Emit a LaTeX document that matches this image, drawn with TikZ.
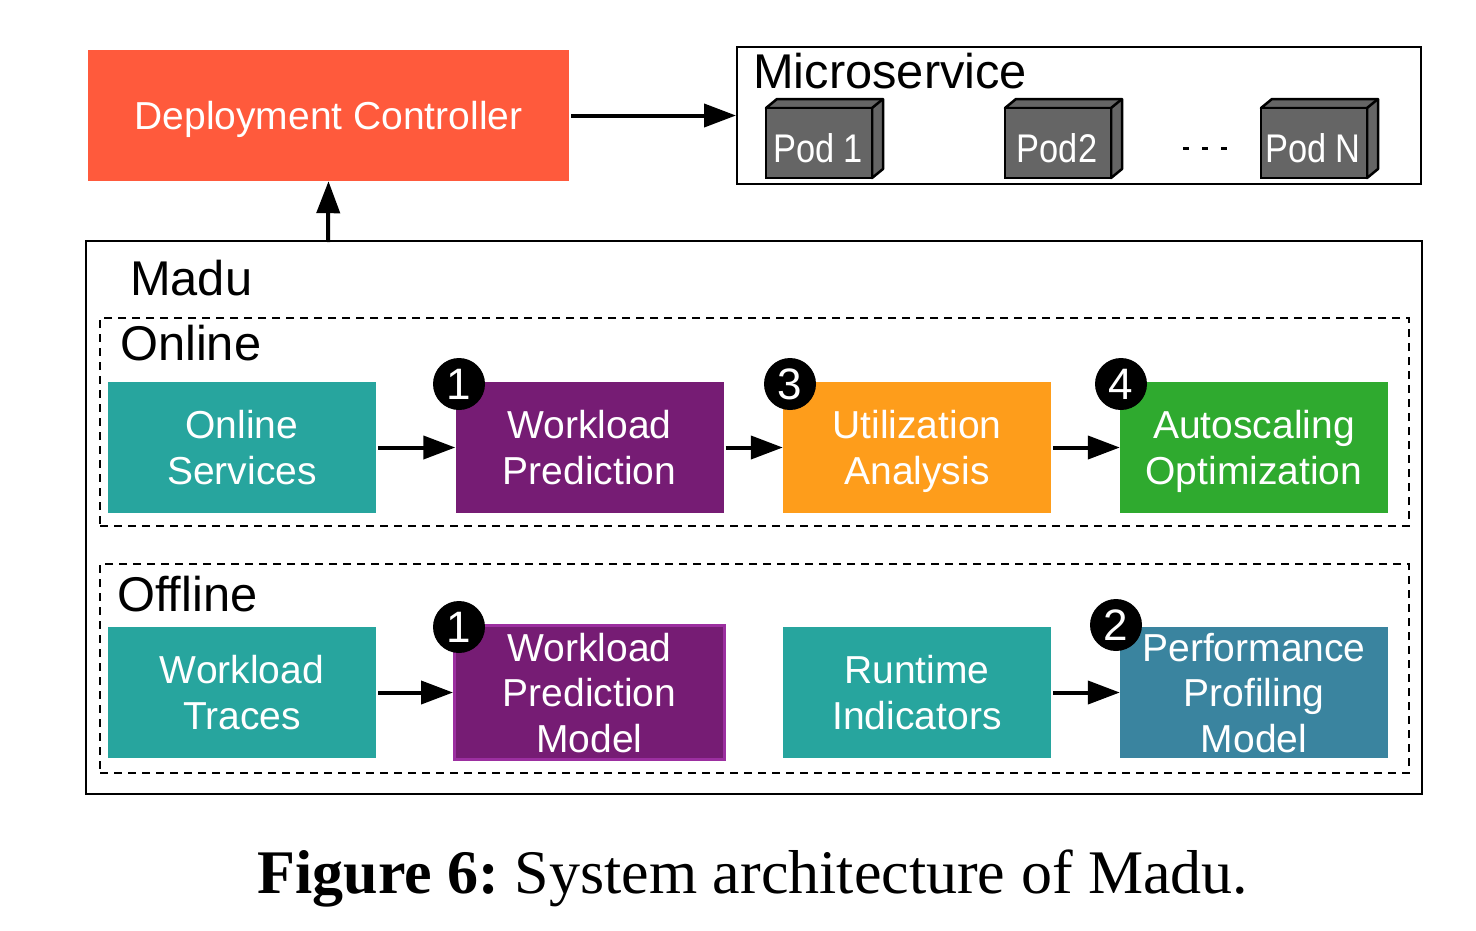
\documentclass[tikz,border=0pt]{standalone}
\usepackage{fontspec}
\usepackage{graphicx}
\newfontfamily\arialf{Liberation Sans}
\newfontfamily\capf{Liberation Serif}
\usetikzlibrary{arrows.meta,calc}
\definecolor{dcred}{HTML}{FF5A3C}
\definecolor{tealc}{HTML}{27A59E}
\definecolor{purplec}{HTML}{761C74}
\definecolor{purpleb}{HTML}{9C2FA0}
\definecolor{orangec}{HTML}{FE9D1B}
\definecolor{greenc}{HTML}{2FAA2F}
\definecolor{steelc}{HTML}{3A849F}
\definecolor{podgray}{HTML}{656565}
\tikzset{
  box/.style={rectangle, inner sep=0pt, minimum width=268pt, minimum height=131pt,
    text=white, align=center, text depth=0pt, font=\arialf\fontsize{39}{46}\selectfont},
  lbl/.style={anchor=base west, inner sep=0pt, font=\arialf\fontsize{48.8}{52}\selectfont},
  flow/.style={line width=4pt, -{Triangle[length=32pt,width=23pt]}},
  pod/.style={rectangle, draw=black, line width=2.5pt, fill=podgray, inner sep=0pt,
    minimum width=106pt, minimum height=70pt},
  podtext/.style={text=white, inner sep=0pt, anchor=base, font=\arialf\fontsize{40}{44}\selectfont},
  podface/.style={draw=black, line width=2.5pt, fill=podgray, line join=round},
  numc/.style={circle, fill=black, text=white, inner sep=0pt, minimum size=52pt,
    font=\arialf\fontsize{44}{46}\selectfont},
  dashbox/.style={draw=black, line width=2pt, dash pattern=on 8pt off 6pt},
}
\begin{document}
\begin{tikzpicture}[x=1pt,y=-1pt]
\useasboundingbox (0,0) rectangle (1476,930);
% Deployment controller
\node[box, fill=dcred, minimum width=481pt, minimum height=131pt] (dc) at (328.5,115.5) {Deployment Controller};
% Microservice
\node[draw=black, line width=2pt, minimum width=684pt, minimum height=137pt, inner sep=0pt] (ms) at (1079,115.5) {};
\node[lbl] (mslbl) at (753,88) {Microservice};
\foreach \n/\x/\t in {p1/819/Pod 1, p2/1058/Pod2, pn/1314/Pod N}{
  \draw[podface] ($(\x,143)+(-53,-35)$) -- ++(11,-9) -- ++(106,0) -- ++(0,70) -- ++(-11,9) -- ++(0,-70) -- cycle;
  \draw[podface] ($(\x,143)+(53,-35)$) -- ++(11,-9);
  \node[pod] (\n) at (\x,143) {};
  \node[podtext] at (\x-1,162) {\scalebox{0.86}[1]{\t}};
}
\draw[line width=3pt, dash pattern=on 6pt off 13pt] (1183,148) -- (1232,148);
% arrows top
\coordinate (msin) at (736,115.5);
\draw[flow] (dc.east) ++(2,0) -- (msin);
% Madu box
\node[draw=black, line width=2pt, minimum width=1336pt, minimum height=553pt, inner sep=0pt] (madu) at (754,517.5) {};
\node[lbl] (madulbl) at (130,295) {Madu};
\draw[flow] (328,242) -- (dc.south);
% Online
\node[dashbox, minimum width=1309pt, minimum height=208pt, inner sep=0pt] (online) at (754.5,422) {};
\node[lbl] (onlbl) at (120,360) {Online};
\node[box, fill=tealc] (os) at (242,447.5) {Online\\Services};
\node[box, fill=purplec] (wp) at (589.5,447.5) {Workload\\Prediction};
\node[box, fill=orangec] (ua) at (917,447.5) {Utilization\\Analysis};
\node[box, fill=greenc] (ao) at (1254,447.5) {Autoscaling\\Optimization};
\draw[flow] (os.east) ++(2,0) -- (wp.west);
\draw[flow] (wp.east) ++(2,0) -- (ua.west);
\draw[flow] (ua.east) ++(2,0) -- (ao.west);
\node[numc] (c1) at (459,384) {1};
\node[numc] (c3) at (790,384) {3};
\node[numc] (c4) at (1121,384) {4};
% Offline
\node[dashbox, minimum width=1309pt, minimum height=209pt, inner sep=0pt] (offline) at (754.5,668.5) {};
\node[lbl] (offlbl) at (117,611) {Offline};
\node[box, fill=tealc] (wt) at (242,692.5) {Workload\\Traces};
\node[box, fill=purplec, draw=purpleb, line width=3pt, minimum width=270pt, minimum height=134pt, font=\arialf\fontsize{39}{45.5}\selectfont] (wpm) at (589.5,692.5) {Workload\\Prediction\\Model};
\node[box, fill=tealc] (ri) at (917,692.5) {Runtime\\Indicators};
\node[box, fill=steelc, font=\arialf\fontsize{39}{45.5}\selectfont] (ppm) at (1254,692.5) {Performance\\Profiling\\Model};
\draw[flow] (wt.east) ++(2,0) -- (wpm.west);
\draw[flow] (ri.east) ++(2,0) -- (ppm.west);
\node[numc] (c1b) at (459,627) {1};
\node[numc] (c2) at (1116,625) {2};
% caption
\node[inner sep=0pt, anchor=base, font=\capf\fontsize{62}{66}\selectfont] (cap) at (753,893) {\frenchspacing\textbf{Figure 6:} System architecture of Madu.};
\end{tikzpicture}
\end{document}
